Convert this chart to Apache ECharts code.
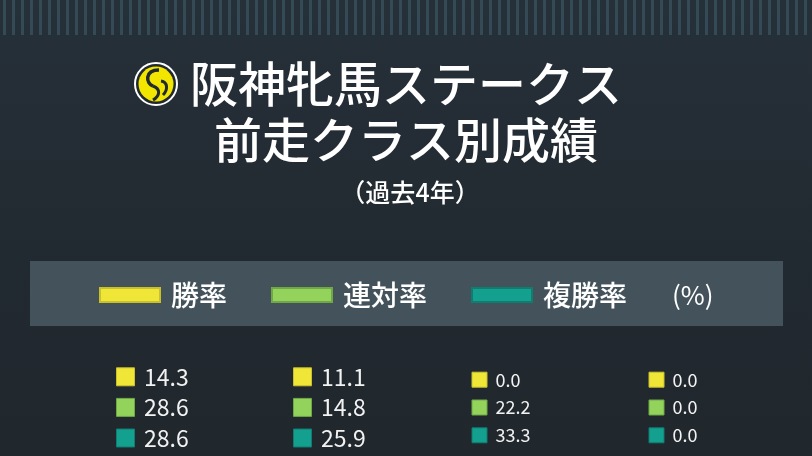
<!DOCTYPE html>
<html><head><meta charset="utf-8">
<script src="https://cdn.jsdelivr.net/npm/echarts@6/dist/echarts.min.js"></script>
<style>html,body{margin:0;padding:0;background:#222a30;}#c{width:812px;height:456px;}</style>
</head><body><div id="c"></div>
<script>
// ---- data ----
const categories = ['GⅠ', 'GⅡ', 'GⅢ', 'オープン'];
const seriesNames = ['勝率', '連対率', '複勝率'];
const winRate = [14.3, 11.1, 0.0, 0.0];
const top2Rate = [28.6, 14.8, 22.2, 0.0];
const top3Rate = [28.6, 25.9, 33.3, 0.0];
const titleLines = ['阪神牝馬ステークス', '前走クラス別成績'];
const subTitle = '（過去4年）';
const unitLabel = '(%)';

// ---- styles ----
const FONT = '"Noto Sans CJK JP Medium", "Noto Sans CJK JP", sans-serif';
const colors = ['#f0e637', '#93d35c', '#14a08f'];
const borders = ['#c9c12a', '#6fa845', '#0f7d70'];
const groupOfCol = [0, 0, 1, 1];           // big labels for first two columns
const groupStyle = [
  { size: 18, font: 23, dist: 9 },
  { size: 15, font: 18, dist: 8 }
];
const values = [winRate, top2Rate, top3Rate];

// stripe pattern for decoration
const pc = document.createElement('canvas');
pc.width = 9; pc.height = 36;
const pctx = pc.getContext('2d');
pctx.fillStyle = '#3a5561';
pctx.fillRect(3, 0, 3, 36);

const series = [];
[0, 1].forEach(g => {
  seriesNames.forEach((name, r) => {
    const data = [];
    categories.forEach((c, i) => {
      if (groupOfCol[i] === g) data.push([c, name, values[r][i]]);
    });
    series.push({
      type: 'scatter',
      name: name,
      xAxisIndex: g, yAxisIndex: g,
      symbol: 'rect',
      symbolSize: groupStyle[g].size,
      itemStyle: { color: colors[r], borderColor: borders[r], borderWidth: 1, opacity: 1 },
      label: {
        show: true, position: 'right', distance: groupStyle[g].dist,
        color: '#f2f2f2', fontSize: groupStyle[g].font,
        fontFamily: 'Noto Sans CJK JP',
        formatter: p => p.value[2].toFixed(1)
      },
      emphasis: { disabled: true },
      data: data
    });
  });
});

const chart = echarts.init(document.getElementById('c'));
chart.setOption({
  backgroundColor: {
    type: 'linear', x: 0, y: 0, x2: 0, y2: 1,
    colorStops: [{ offset: 0, color: '#263039' }, { offset: 0.55, color: '#222a31' }, { offset: 1, color: '#20272d' }]
  },
  animation: false,
  textStyle: { fontFamily: 'Noto Sans CJK JP' },
  title: {
    text: titleLines.join('\n'),
    left: 'center', top: 51,
    textStyle: { color: '#ffffff', fontSize: 48, fontWeight: 500, lineHeight: 56, fontFamily: FONT }
  },
  legend: {
    data: seriesNames,
    left: 94, top: 276,
    icon: 'rect', itemWidth: 60, itemHeight: 14, itemGap: 44,
    selectedMode: false,
    textStyle: { color: '#ffffff', fontSize: 28, fontWeight: 500, padding: [0, 0, 0, 6], fontFamily: FONT }
  },
  graphic: [
    { type: 'rect', z: -10, silent: true, shape: { x: 0, y: 0, width: 812, height: 35 },
      style: { fill: { image: pc, repeat: 'repeat' }, opacity: 0.75 } },
    { type: 'rect', z: -5, silent: true, shape: { x: 30, y: 261, width: 753, height: 65 },
      style: { fill: '#44535b' } },
    { type: 'group', x: 156, y: 84, children: [
      { type: 'circle', shape: { cx: 0, cy: 0, r: 21 }, style: { fill: '#222a30', stroke: '#ffffff', lineWidth: 2 } },
      { type: 'circle', shape: { cx: 0, cy: 0, r: 17.5 }, style: { fill: '#f2e600' } },
      { type: 'bezierCurve', shape: { x1: 3, y1: -14, cpx1: -12, cpy1: -14, cpx2: -10, cpy2: 0, x2: -3, y2: 2 },
        style: { fill: 'none', stroke: '#222a30', lineWidth: 3.5 } },
      { type: 'bezierCurve', shape: { x1: -3, y1: 2, cpx1: 5, cpy1: 5, cpx2: 4, cpy2: 12, x2: -3, y2: 16 },
        style: { fill: 'none', stroke: '#222a30', lineWidth: 3 } },
      { type: 'bezierCurve', shape: { x1: 5, y1: -3, cpx1: 12, cpy1: -2, cpx2: 12, cpy2: 6, x2: 7, y2: 11 },
        style: { fill: 'none', stroke: '#222a30', lineWidth: 3 } }
    ] },
    { type: 'text', x: 410, y: 192, style: { text: subTitle, fill: '#ffffff', font: '25px ' + FONT, textAlign: 'center', textVerticalAlign: 'middle' } },
    { type: 'text', x: 672, y: 295, style: { text: unitLabel, fill: '#ffffff', font: '26px "Noto Sans CJK JP"', textAlign: 'left', textVerticalAlign: 'middle' } }
  ],
  grid: [
    { left: 37, width: 708, top: 361.5, height: 91.8 },
    { left: 37, width: 708, top: 365.8, height: 83.4 }
  ],
  xAxis: [0, 1].map(g => ({ type: 'category', gridIndex: g, data: categories, show: false })),
  yAxis: [0, 1].map(g => ({ type: 'category', gridIndex: g, data: seriesNames, inverse: true, show: false })),
  series: series
});
</script></body></html>
